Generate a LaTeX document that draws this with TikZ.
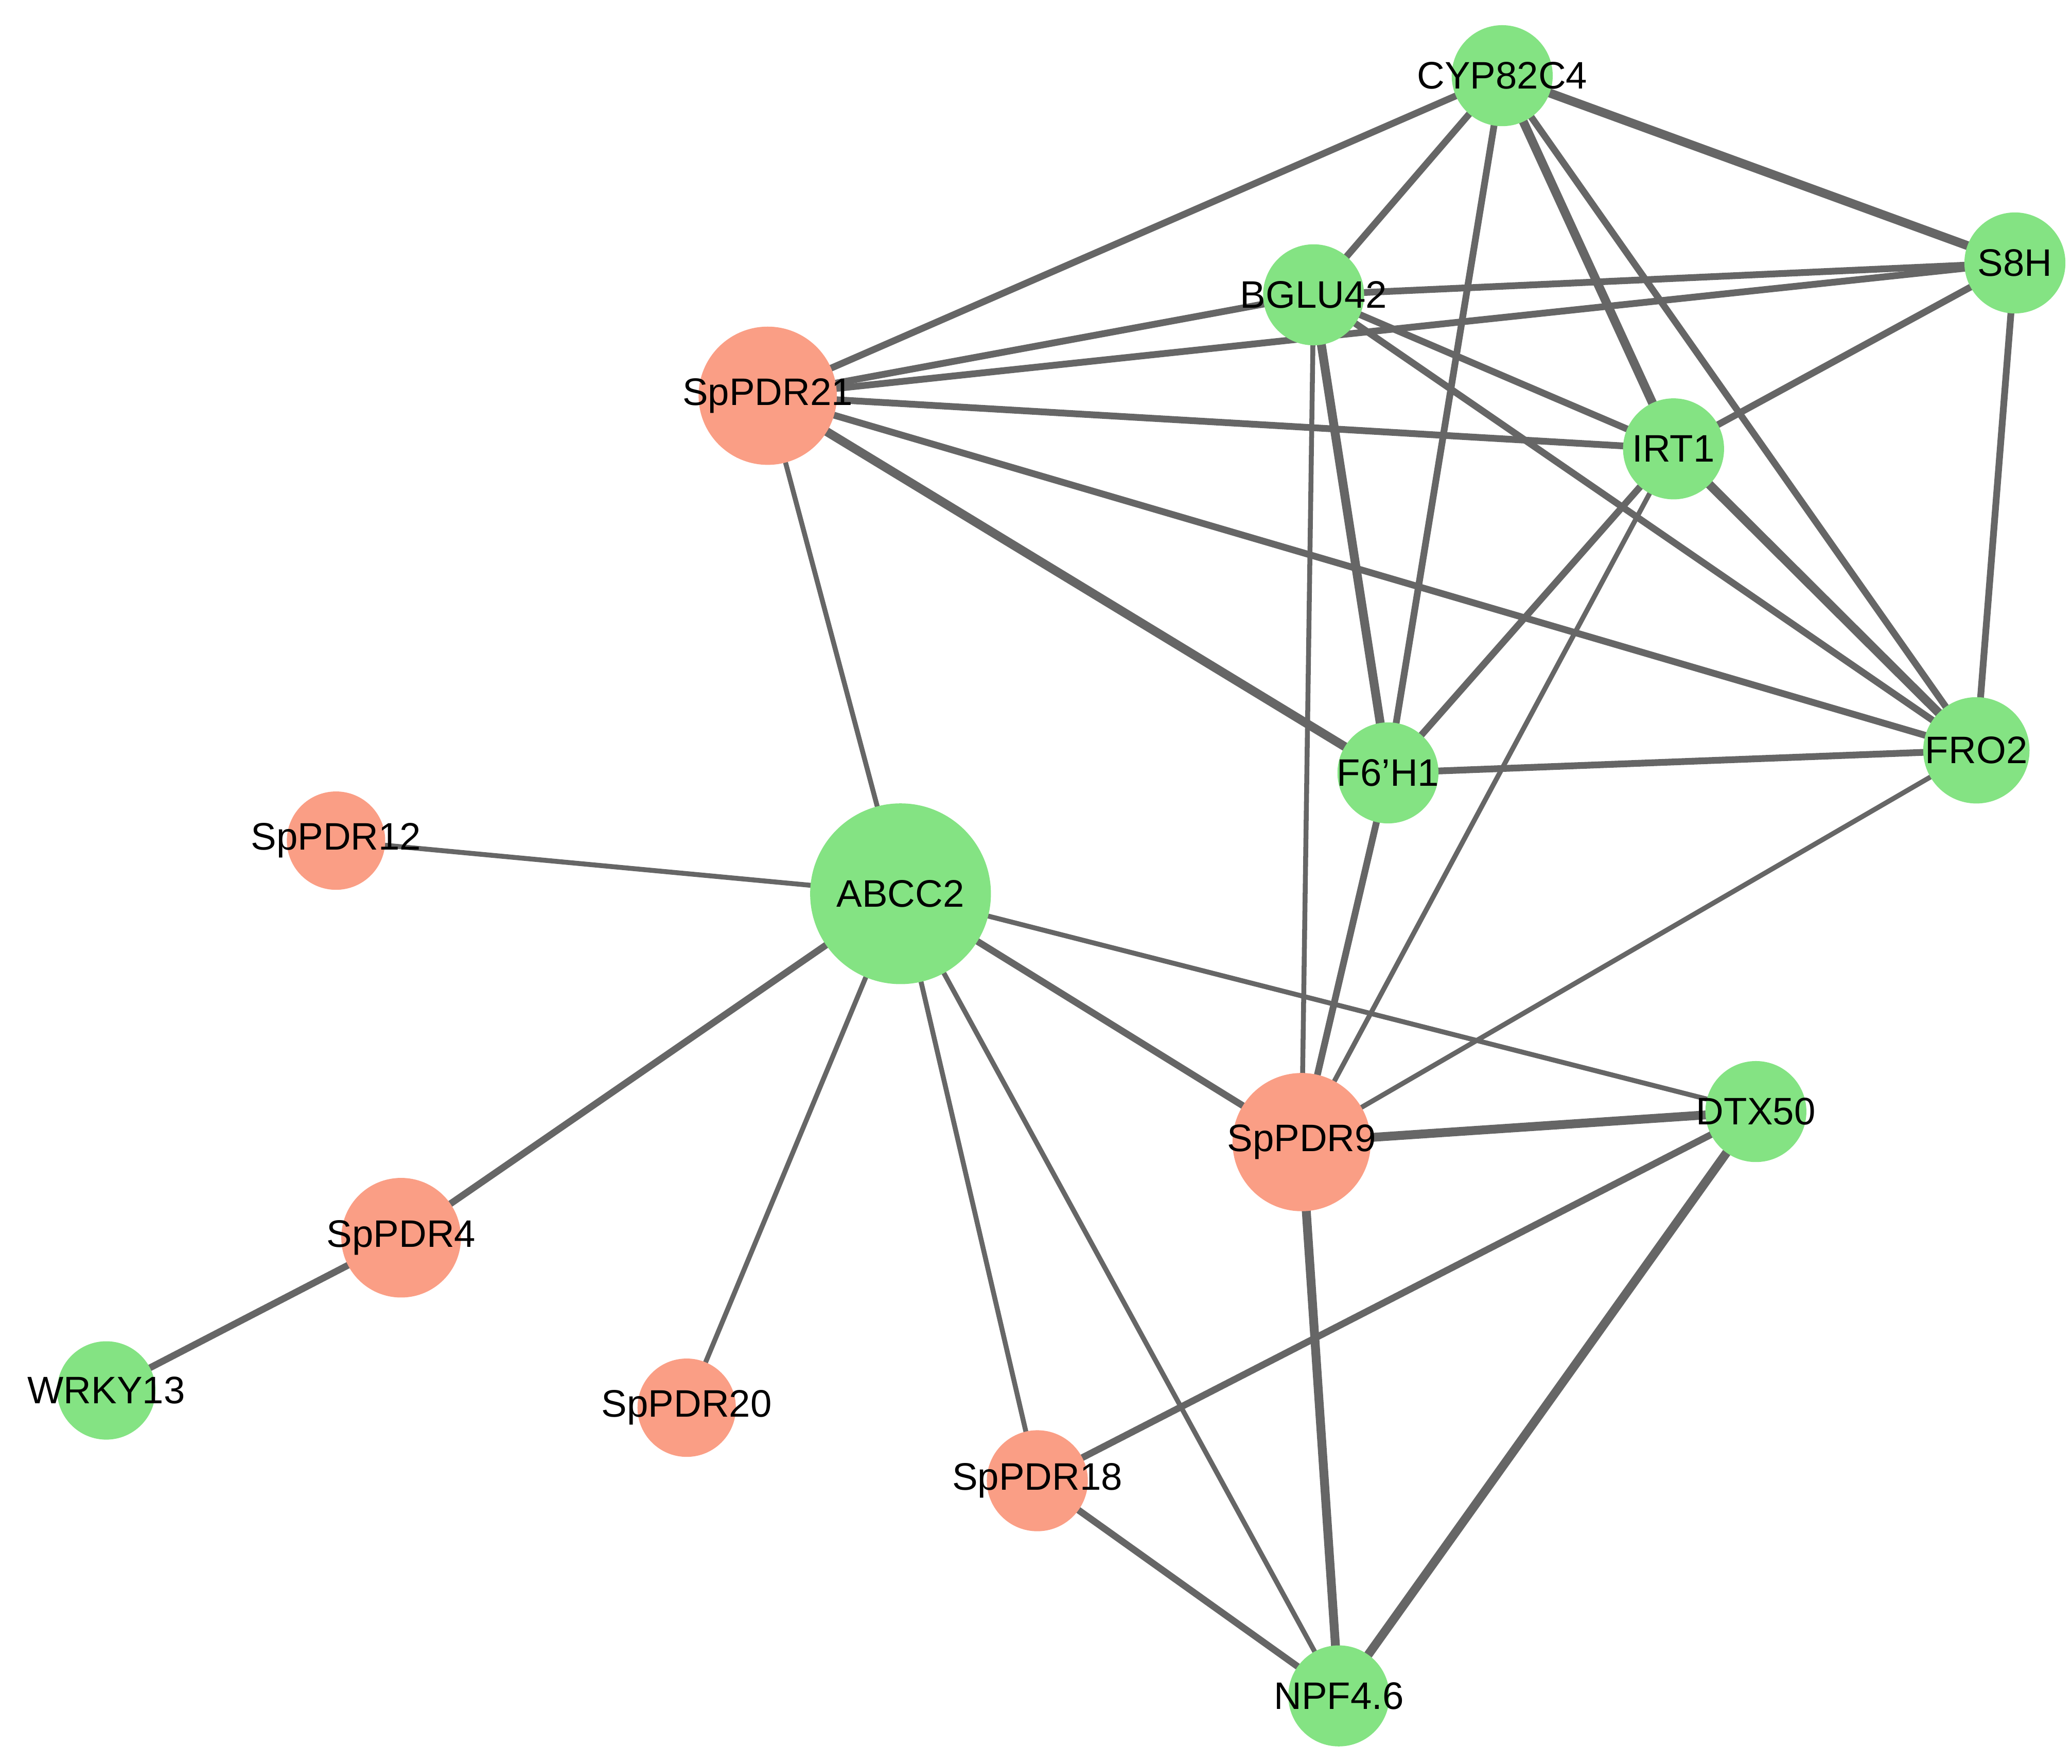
\documentclass[tikz,border=0pt]{standalone}
\usepackage{fontspec}
\setmainfont{Liberation Sans}
\usetikzlibrary{backgrounds}
\definecolor{gn}{HTML}{84E383}
\definecolor{sa}{HTML}{FA9E85}
\definecolor{ed}{HTML}{666666}
\begin{document}
\begin{tikzpicture}[x=0.01cm,y=-0.01cm,
  lf/.style={font=\fontsize{8.2}{9}\selectfont,inner sep=0pt},
  g/.style={circle,fill=gn,inner sep=0pt,minimum size=#1*0.02cm},
  s/.style={circle,fill=sa,inner sep=0pt,minimum size=#1*0.02cm},
  e/.style={draw=ed,line width=1.45pt},
  t/.style={draw=ed,line width=1.05pt},
  k/.style={draw=ed,line width=1.9pt}]
\useasboundingbox (0,0) rectangle (1560,1328);
\node[g=38,label={[lf]center:CYP82C4}] (cyp) at (1131,57) {};
\node[g=38,label={[lf]center:S8H}] (s8h) at (1517,198) {};
\node[g=38,label={[lf]center:BGLU42}] (bg) at (989,222) {};
\node[s=52,label={[lf]center:SpPDR21}] (p21) at (578,298) {};
\node[g=38,label={[lf]center:IRT1}] (irt) at (1260,338) {};
\node[g=38,label={[lf]center:F6'H1}] (f6) at (1045,582) {};
\node[g=40,label={[lf]center:FRO2}] (fro) at (1488,565) {};
\node[s=37,label={[lf]center:SpPDR12}] (p12) at (253,633) {};
\node[g=68,label={[lf]center:ABCC2}] (ab) at (678,673) {};
\node[g=38,label={[lf]center:DTX50}] (dtx) at (1322,837) {};
\node[s=52,label={[lf]center:SpPDR9}] (p9) at (980,860) {};
\node[s=45,label={[lf]center:SpPDR4}] (p4) at (302,932) {};
\node[g=37,label={[lf]center:WRKY13}] (wr) at (80,1047) {};
\node[s=37,label={[lf]center:SpPDR20}] (p20) at (517,1060) {};
\node[s=38,label={[lf]center:SpPDR18}] (p18) at (781,1115) {};
\node[g=38,label={[lf]center:NPF4.6}] (npf) at (1008,1277) {};
\begin{scope}[on background layer]
\draw[e] (cyp.center)--(p21.center);
\draw[e] (cyp.center)--(bg.center);
\draw[k] (cyp.center)--(s8h.center);
\draw[e] (cyp.center)--(f6.center);
\draw[k] (cyp.center)--(irt.center);
\draw[e] (cyp.center)--(fro.center);
\draw[e] (s8h.center)--(bg.center);
\draw[e] (s8h.center)--(p21.center);
\draw[e] (s8h.center)--(irt.center);
\draw[e] (s8h.center)--(fro.center);
\draw[e] (bg.center)--(p21.center);
\draw[e] (bg.center)--(irt.center);
\draw[e] (bg.center)--(fro.center);
\draw[k] (bg.center)--(f6.center);
\draw[t] (bg.center)--(p9.center);
\draw[e] (p21.center)--(irt.center);
\draw[e] (p21.center)--(fro.center);
\draw[k] (p21.center)--(f6.center);
\draw[t] (p21.center)--(ab.center);
\draw[k] (irt.center)--(fro.center);
\draw[e] (irt.center)--(f6.center);
\draw[t] (irt.center)--(p9.center);
\draw[e] (f6.center)--(fro.center);
\draw[e] (f6.center)--(p9.center);
\draw[t] (fro.center)--(p9.center);
\draw[t] (ab.center)--(p12.center);
\draw[e] (ab.center)--(p4.center);
\draw[t] (ab.center)--(p20.center);
\draw[t] (ab.center)--(p18.center);
\draw[t] (ab.center)--(npf.center);
\draw[e] (ab.center)--(p9.center);
\draw[t] (ab.center)--(dtx.center);
\draw[k] (p9.center)--(dtx.center);
\draw[k] (p9.center)--(npf.center);
\draw[e] (dtx.center)--(p18.center);
\draw[k] (dtx.center)--(npf.center);
\draw[e] (p18.center)--(npf.center);
\draw[e] (p4.center)--(wr.center);
\end{scope}
\end{tikzpicture}
\end{document}
